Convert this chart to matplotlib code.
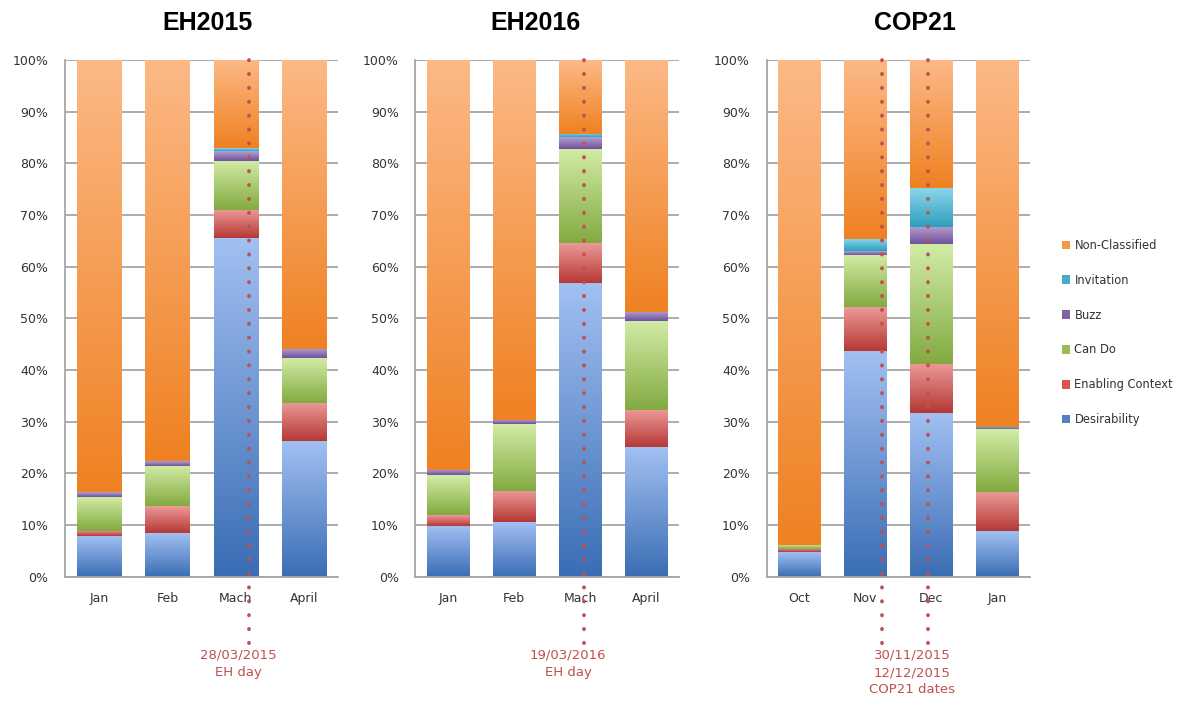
#!/usr/bin/env python3
"""Monthly share of message categories around EH2015, EH2016 and COP21."""

import numpy as np
import matplotlib
matplotlib.use("Agg")
import matplotlib.pyplot as plt
import matplotlib.transforms as mtransforms
from matplotlib.colors import LinearSegmentedColormap
from matplotlib.patches import Patch

# --- Data (percent of messages per month) ---
categories = ["Desirability", "Enabling Context", "Can Do", "Buzz", "Invitation"]

eh2015_months = ["Jan", "Feb", "Mach", "April"]
eh2015_desirability = [7.8, 8.5, 65.5, 26.3]
eh2015_enabling = [1.0, 5.1, 5.5, 7.4]
eh2015_cando = [6.7, 7.8, 9.5, 8.6]
eh2015_buzz = [0.9, 0.9, 1.9, 1.8]
eh2015_invitation = [0.0, 0.0, 0.5, 0.0]

eh2016_months = ["Jan", "Feb", "Mach", "April"]
eh2016_desirability = [9.9, 10.5, 56.9, 25.0]
eh2016_enabling = [2.0, 6.1, 7.7, 7.2]
eh2016_cando = [7.7, 12.9, 18.2, 17.3]
eh2016_buzz = [1.0, 0.8, 2.2, 1.8]
eh2016_invitation = [0.0, 0.0, 0.7, 0.0]

cop21_months = ["Oct", "Nov", "Dec", "Jan"]
cop21_desirability = [4.7, 43.7, 31.7, 8.9]
cop21_enabling = [0.7, 8.5, 9.5, 7.5]
cop21_cando = [0.8, 10.1, 23.1, 12.1]
cop21_buzz = [0.0, 0.7, 3.3, 0.2]
cop21_invitation = [0.0, 2.4, 7.7, 0.3]

titles = ["EH2015", "EH2016", "COP21"]

# event markers: (category position, annotation text)
eh2015_events = [2.2]
eh2016_events = [2.06]
cop21_events = [1.25, 1.956]
event_texts = ["28/03/2015\nEH day", "19/03/2016\nEH day",
               "30/11/2015\n12/12/2015\nCOP21 dates"]

# --- Style ---
# (light top, dark bottom) for the gradient fills
gradients = {
    "Desirability": ("#a2c0f2", "#3a6db4"),
    "Enabling Context": ("#ec9a98", "#b53835"),
    "Can Do": ("#d2eca6", "#83aa40"),
    "Buzz": ("#b3a0cf", "#6f509d"),
    "Invitation": ("#90d6ea", "#2c9fbf"),
    "Non-Classified": ("#fcb986", "#ef8122"),
}
legend_colors = {
    "Non-Classified": "#f79646",
    "Invitation": "#4bacc6",
    "Buzz": "#8064a2",
    "Can Do": "#9bbb59",
    "Enabling Context": "#d9534f",
    "Desirability": "#4f81bd",
}
GRID = "#a6a6a6"
EVENT = "#c0504d"
FONT = "DejaVu Sans"

plt.rcParams["font.family"] = FONT


def gradient_bar(ax, x, bottom, height, name, width=0.645):
    if height <= 0:
        return
    light, dark = gradients[name]
    cmap = LinearSegmentedColormap.from_list(name, [dark, light])
    bars = ax.bar(x, height, width=width, bottom=bottom, color=light,
                  linewidth=0, zorder=2)
    rect = bars.patches[0]
    grad = np.linspace(0, 1, 256).reshape(-1, 1)
    im = ax.imshow(grad, cmap=cmap, origin="lower", aspect="auto",
                   extent=[x - width / 2, x + width / 2, bottom, bottom + height],
                   zorder=2.5, interpolation="bilinear")
    im.set_clip_path(rect)


def draw_panel(ax, months, series, events):
    x = np.arange(len(months))
    bottoms = np.zeros(len(months))
    names = categories + ["Non-Classified"]
    rest = 100 - np.sum(series, axis=0)
    all_series = list(series) + [rest]
    for name, vals in zip(names, all_series):
        for i, v in enumerate(vals):
            gradient_bar(ax, x[i], bottoms[i], v, name)
        bottoms = bottoms + np.asarray(vals)

    ax.set_xlim(-0.5, len(months) - 0.5)
    ax.set_ylim(0, 100)
    ax.set_yticks(np.arange(0, 101, 10))
    ax.set_yticklabels([f"{v}%" for v in range(0, 101, 10)])
    ax.set_xticks(x)
    ax.set_xticklabels(months)
    ax.grid(axis="y", color=GRID, linewidth=1.3, zorder=0)
    ax.set_axisbelow(True)
    for side in ["top", "right"]:
        ax.spines[side].set_visible(False)
    for side in ["left", "bottom"]:
        ax.spines[side].set_color(GRID)
        ax.spines[side].set_linewidth(1.3)
    ax.tick_params(length=0, labelsize=9, colors="#333333")
    ax.tick_params(axis="y", pad=12)
    ax.tick_params(axis="x", pad=11)

    trans = mtransforms.blended_transform_factory(ax.transData, ax.transAxes)
    for ex in events:
        ax.plot([ex, ex], [1.0, -0.145], transform=trans, clip_on=False,
                color=EVENT, linewidth=2.7, linestyle=(0, (0.1, 3.6)),
                dash_capstyle="round", zorder=6)


def main() -> None:
    fig = plt.figure(figsize=(11.99, 7.08), dpi=100)
    bottom, height = 0.1855, 0.7298
    ax1 = fig.add_axes([0.0542, bottom, 0.2277, height])
    ax2 = fig.add_axes([0.3465, bottom, 0.2198, height])
    ax3 = fig.add_axes([0.6394, bottom, 0.2196, height])

    draw_panel(ax1, eh2015_months,
               [eh2015_desirability, eh2015_enabling, eh2015_cando,
                eh2015_buzz, eh2015_invitation], eh2015_events)
    draw_panel(ax2, eh2016_months,
               [eh2016_desirability, eh2016_enabling, eh2016_cando,
                eh2016_buzz, eh2016_invitation], eh2016_events)
    draw_panel(ax3, cop21_months,
               [cop21_desirability, cop21_enabling, cop21_cando,
                cop21_buzz, cop21_invitation], cop21_events)

    # titles
    for xc, t in zip([207, 536, 915], titles):
        fig.text(xc / 1199, 1 - 23 / 708, t, ha="center", va="center",
                 fontsize=18, fontweight="bold", family="Liberation Sans")

    # event annotations
    for xc, t in zip([238, 568, 912], event_texts):
        fig.text(xc / 1199, 1 - 649 / 708, t, ha="center", va="top",
                 fontsize=9.5, color=EVENT, linespacing=1.4)

    handles = [Patch(facecolor=c, edgecolor="none", label=k)
               for k, c in legend_colors.items()]
    fig.legend(handles=handles, loc="upper left",
               bbox_to_anchor=(1056 / 1199, 1 - 233 / 708), frameon=False,
               fontsize=8.3, handlelength=0.75, handleheight=0.75,
               handletextpad=0.35, labelspacing=1.9, borderpad=0,
               labelcolor="#333333")

    plt.savefig("out.png", dpi=100)


if __name__ == "__main__":
    main()
